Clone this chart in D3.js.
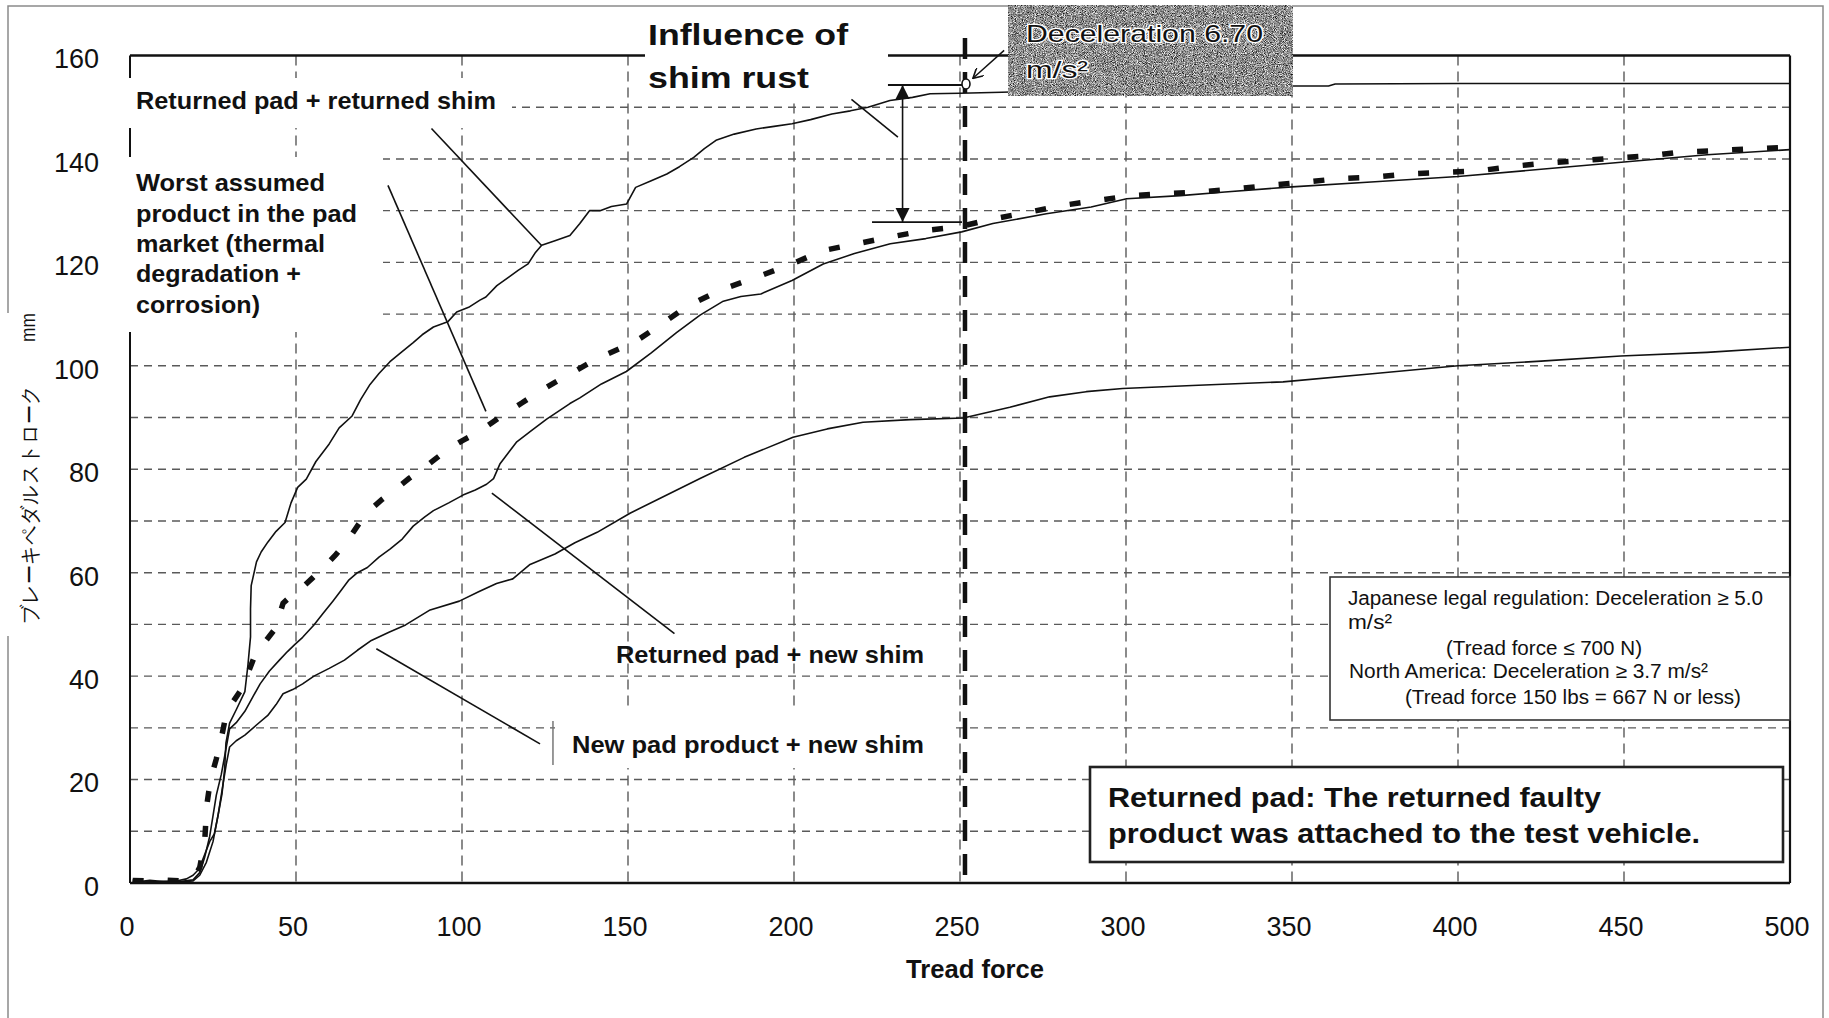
<!DOCTYPE html>
<html><head><meta charset="utf-8">
<script src="https://cdn.jsdelivr.net/npm/d3@7"></script>
<style>
html,body{margin:0;padding:0;background:#fff;}
svg{display:block;}
text{font-family:"Liberation Sans",Arial,Helvetica,sans-serif;fill:#111;}
</style></head><body>
<svg id="chart" width="1829" height="1018"></svg>
<script>
// ---------------- data ----------------
const xTicks = [0,50,100,150,200,250,300,350,400,450,500];
const yTicks = [0,20,40,60,80,100,120,140,160];
const xGrid = [50,100,150,200,250,300,350,400,450];
const yGrid = [10,20,30,40,50,60,70,80,90,100,110,120,130,140,150];

// Returned pad + returned shim
const seriesA = [[0.8,0.6],[3,0.3],[6,0.5],[10,0.3],[14,0.4],[17,0.8],[19,1.5],[20.8,2.7],[22.5,5.5],[24,8],[25.4,9.5],[26.5,13],[27.7,17.2],[28.5,22],[28.9,27.1],[30,30.9],[32,33.5],[34.6,37],[35.5,42],[36.3,47.6],[36.3,53],[36.5,57.5],[38.1,62.1],[39.5,64],[41.5,65.9],[44,68],[46.7,69.7],[48.5,73.5],[50.5,76.5],[53.1,78.1],[56,81.5],[60,84.9],[63,88],[66.9,90.3],[69.5,93.5],[72.3,96.4],[75,98.5],[78.3,100.8],[81.5,102.5],[85.3,104.5],[88,106],[91.4,107.5],[95.7,108.5],[98.4,110.4],[102,111.3],[105.4,112.7],[107.2,113.3],[110.5,115.5],[114.2,117.2],[117,118.5],[119.9,119.7],[122,121.8],[124,123.3],[128,124.2],[132.5,125.2],[135.5,127.5],[138.4,130],[141.6,130],[145,130.8],[149.6,131.3],[152.3,134.5],[157,135.8],[161.7,137.1],[165.5,138.5],[169.8,140.3],[173,142],[176.5,143.6],[182,144.8],[188.6,145.8],[194,146.3],[199.4,146.8],[205,147.6],[211.4,148.7],[217,149.3],[222.3,150],[228.9,151.3],[235.7,151.9],[241,152.6],[250,152.7],[262.6,152.9],[280,153.2],[300,153.5],[325,153.8],[340,154],[350,154.1],[361,154.1],[363,154.5],[400,154.6],[450,154.6],[500,154.6]];

// Worst assumed product in the pad market
const seriesB = [[0.8,0.5],[5,0.4],[10,0.6],[15,0.4],[19,0.8],[21,3],[22.5,8],[23.1,14.9],[24.2,19.8],[26,24],[27.5,28],[28.9,32.4],[31,35],[33.5,37.4],[35.5,40.5],[37.5,43.8],[40.5,46.5],[43.8,49.2],[46.1,54.1],[48.5,55.5],[51.3,56.8],[55,59],[58.3,61],[62,63.5],[65.2,65.9],[69,69.5],[72.1,72],[76,74.2],[80.1,76.2],[84,78.2],[88,80],[92,82],[95.9,83.9],[100,85.5],[105,87.2],[109,89],[113,90.8],[118,92.8],[123,94.9],[128,96.8],[133,98.6],[141,101.5],[152,104.6],[160,108],[168,111.6],[178,114.7],[189,117.2],[199.4,119.7],[208.8,122.3],[218.9,123.6],[229,124.9],[239.7,126.2],[249.1,126.8],[259.9,128.4],[270.7,129.7],[280.7,131],[291.5,132],[301.6,132.9],[312.3,133.3],[322.4,133.6],[333.1,134.2],[343.4,134.9],[354,135.5],[364,136.2],[375.2,136.5],[385.2,137.1],[395.8,137.4],[406.3,137.7],[416.9,138.6],[426.9,139.2],[437.4,139.7],[448,140.2],[458,140.6],[466.4,141.3],[476.9,141.6],[487.5,141.9],[498.1,142.2],[500,142.3]];

// Returned pad + new shim
const seriesC = [[0.8,0.3],[5,0.2],[10,0.3],[15,0.3],[19,0.6],[21,2],[22.5,5],[24,9],[25,13],[26,17],[27.5,21],[28.5,24.5],[30,29.8],[32,31],[34.6,33.2],[37,36],[39.2,38.5],[42,41],[45,43.1],[47.5,44.8],[49.6,46.1],[52,47.5],[55.4,49.9],[58,52],[61.1,54.5],[63.5,56.5],[65.8,58.5],[68.5,60],[71.5,61],[75,63],[78.4,64.6],[82,66.5],[85.3,69],[88.8,70.8],[91.4,72],[96,73.5],[100.3,75],[104,76],[107.4,77.1],[109.5,78.2],[111.4,81],[114.2,83.4],[116.5,85.3],[121,87.5],[125.5,89.7],[129,91.2],[132.5,92.7],[135.5,93.8],[142,96.5],[149.5,98.9],[157,102.5],[164.6,106.4],[171.7,109.8],[178.7,112.5],[184,113.4],[190,113.9],[199.4,116.5],[208.8,119.7],[218.2,121.7],[229,123.6],[239.7,124.6],[250.5,125.9],[259.9,127.5],[276,129.4],[289.5,130.7],[300.2,132.3],[316.4,132.9],[329.8,133.6],[350,134.6],[375,135.6],[400,136.6],[425,138],[450,139.4],[475,140.8],[500,141.8]];

// New pad product + new shim
const seriesD = [[0.8,0.2],[5,0.2],[10,0.3],[15,0.2],[19,0.4],[21,1.5],[23,4],[25,8],[26.5,13],[28,19],[29,23],[30,26.3],[32,27.5],[34.6,28.6],[38,30.5],[41.5,32.4],[44,34.5],[46.1,36.6],[49,37.4],[52,38.5],[55.4,40],[60,41.5],[64.6,43.1],[68.5,45],[72.7,46.9],[78,48.5],[83,49.9],[90.4,52.8],[99.2,54.5],[105,56.3],[110.4,57.9],[115.3,58.8],[120.5,61.6],[128,63.6],[134,65.8],[140.7,67.8],[150.6,71.5],[160,74.5],[171.7,78.2],[185,82.3],[199.7,86.2],[210,87.8],[220.8,89.1],[235,89.6],[251,89.9],[265,92],[277,94],[288,95],[299,95.6],[320,96.2],[347.3,96.9],[375,98.5],[400,100],[425,100.9],[449,101.9],[475,102.6],[500,103.6]];

const decelForce = 251.5;      // Deceleration 6.70 m/s² tread force
const decelStroke = 154.5;     // marked point
const rustTop = 154.3, rustBottom = 127.8, rustForce = 232.7;

// ---------------- drawing ----------------
const svg = d3.select("#chart");
const x = d3.scaleLinear().domain([0,500]).range([130,1790]);
const y = d3.scaleLinear().domain([0,160]).range([883,55.5]);

const defs = svg.append("defs");
const f = defs.append("filter").attr("id","grain").attr("x",0).attr("y",0).attr("width",1).attr("height",1)
  .attr("color-interpolation-filters","sRGB");
f.append("feTurbulence").attr("type","fractalNoise").attr("baseFrequency","1.1").attr("numOctaves",2).attr("seed",7).attr("result","n");
f.append("feColorMatrix").attr("in","n").attr("type","matrix")
 .attr("values","0.33 0.33 0.33 0 0  0.33 0.33 0.33 0 0  0.33 0.33 0.33 0 0  0 0 0 0 1").attr("result","g");
const ct = f.append("feComponentTransfer").attr("in","g").attr("result","c");
["feFuncR","feFuncG","feFuncB"].forEach(k=>ct.append(k).attr("type","linear").attr("slope",3.4).attr("intercept",-1.12));
f.append("feComposite").attr("in","c").attr("in2","SourceGraphic").attr("operator","in");

defs.append("marker").attr("id","tri").attr("viewBox","0 0 10 10").attr("refX",10).attr("refY",5)
  .attr("markerWidth",14).attr("markerHeight",15).attr("markerUnits","userSpaceOnUse").attr("orient","auto-start-reverse")
  .append("path").attr("d","M0,0 L10,5 L0,10 Z").attr("fill","#111");
defs.append("marker").attr("id","vee").attr("viewBox","0 0 10 10").attr("refX",9).attr("refY",5)
  .attr("markerWidth",11).attr("markerHeight",11).attr("markerUnits","userSpaceOnUse").attr("orient","auto")
  .append("path").attr("d","M0,0 L9,5 L0,10").attr("fill","none").attr("stroke","#111").attr("stroke-width",1.5);

// outer frame
const frame = svg.append("g").attr("stroke","#8a8a8a").attr("stroke-width",1.5).attr("fill","none");
frame.append("path").attr("d","M8,313 L8,6 L1823,6 L1823,1018");
frame.append("path").attr("d","M8,636 L8,1018");

// grid
const grid = svg.append("g");
grid.selectAll("line.h").data(yGrid).join("line").attr("class","h")
  .attr("x1",x(0)).attr("x2",x(500)).attr("y1",d=>y(d)).attr("y2",d=>y(d))
  .attr("stroke","#5a5a5a").attr("stroke-width",1.4).attr("stroke-dasharray","8,6");
grid.selectAll("line.v").data(xGrid).join("line").attr("class","v")
  .attr("y1",y(160)).attr("y2",y(0)).attr("x1",d=>x(d)).attr("x2",d=>x(d))
  .attr("stroke","#5a5a5a").attr("stroke-width",1.4).attr("stroke-dasharray","10,6");

// curves
const line = d3.line().x(d=>x(d[0])).y(d=>y(d[1]));
[seriesD, seriesC, seriesA].forEach(s=>{
  svg.append("path").datum(s).attr("d",line).attr("fill","none").attr("stroke","#111").attr("stroke-width",1.6).attr("stroke-linejoin","round");
});
svg.append("path").datum(seriesB).attr("d",line).attr("fill","none").attr("stroke","#111")
  .attr("stroke-width",5.5).attr("stroke-dasharray","11,24");

// plot frame
const fr = svg.append("g").attr("stroke","#111").attr("fill","none");
fr.append("line").attr("x1",x(0)).attr("x2",x(500)).attr("y1",y(0)).attr("y2",y(0)).attr("stroke-width",2.5);
fr.append("line").attr("x1",x(0)).attr("x2",x(500)).attr("y1",y(160)).attr("y2",y(160)).attr("stroke-width",2.5);
fr.append("line").attr("x1",x(0)).attr("x2",x(0)).attr("y1",y(0)).attr("y2",y(160)).attr("stroke-width",2);
fr.append("line").attr("x1",x(500)).attr("x2",x(500)).attr("y1",y(0)).attr("y2",y(160)).attr("stroke-width",2.2);

// thick dashed deceleration line
svg.append("line").attr("x1",x(decelForce)).attr("x2",x(decelForce)).attr("y1",38).attr("y2",y(0))
  .attr("stroke","#111").attr("stroke-width",4.5).attr("stroke-dasharray","21,13");

// white label backgrounds
const wb = [[125,78,387,50],[125,157,258,175],[555,710,395,58],[645,10,243,88]];
svg.selectAll("rect.wb").data(wb).join("rect").attr("class","wb")
  .attr("x",d=>d[0]).attr("y",d=>d[1]).attr("width",d=>d[2]).attr("height",d=>d[3]).attr("fill","#fff");

// axes labels
const ax = svg.append("g").attr("transform",`translate(${x(0)},0)`)
  .call(d3.axisLeft(y).tickValues(yTicks).tickSize(0).tickPadding(31).tickFormat(d3.format("d")));
ax.select(".domain").remove();
ax.selectAll("text").attr("font-size",27).attr("dy","0.46em").attr("font-family","Liberation Sans, Arial, sans-serif").attr("fill","#111");
const bx = svg.append("g").attr("transform",`translate(0,${y(0)})`)
  .call(d3.axisBottom(x).tickValues(xTicks).tickSize(0).tickPadding(34).tickFormat(d3.format("d")));
bx.select(".domain").remove();
bx.selectAll("text").attr("font-size",27).attr("dx","-3.5").attr("font-family","Liberation Sans, Arial, sans-serif").attr("fill","#111");

function txt(t, px, py, size, weight, len, anchor){
  const e = svg.append("text").attr("x",px).attr("y",py).attr("font-size",size).attr("font-weight",weight||"normal")
    .attr("text-anchor",anchor||"start").text(t);
  if(len){ e.attr("textLength",len).attr("lengthAdjust","spacingAndGlyphs"); }
  return e;
}

txt("Tread force", 975, 978, 25, "bold", 138, "middle");

// y-axis title (rotated)
svg.append("text").attr("transform","translate(37,504.5) rotate(-90)").attr("text-anchor","middle")
  .attr("font-family","Noto Sans CJK JP, sans-serif").attr("font-size",21).attr("fill","#111")
  .attr("textLength",239).attr("lengthAdjust","spacingAndGlyphs").text("ブレーキペダルストローク");
svg.append("text").attr("transform","translate(35,327.5) rotate(-90)").attr("text-anchor","middle")
  .attr("font-size",21).attr("fill","#111").attr("textLength",29).attr("lengthAdjust","spacingAndGlyphs").text("mm");

// series labels
txt("Returned pad + returned shim", 136, 109, 24, "bold", 360);
const worst = ["Worst assumed","product in the pad","market (thermal","degradation +","corrosion)"];
const worstLen = [189,221,189,165,124];
const worstBase = [191,221.7,252.3,282,313];
worst.forEach((t,i)=>txt(t,136,worstBase[i],24,"bold",worstLen[i]));
txt("Returned pad + new shim", 616, 663, 24, "bold", 308);
txt("New pad product + new shim", 572, 753, 24, "bold", 352);
txt("Influence of", 648, 45, 30, "bold", 200);
txt("shim rust", 648, 88, 30, "bold", 161);

// leader lines (data units)
const leaders = [
  [[90.8,145.9],[123.9,123.3]],
  [[77.7,134.9],[107.2,91.2]],
  [[109,75.4],[164,48.2]],
  [[74.2,45.3],[123.5,26.9]],
  [[217.3,151.5],[231.3,144.2]]
];
svg.selectAll("line.ld").data(leaders).join("line").attr("class","ld")
  .attr("x1",d=>x(d[0][0])).attr("y1",d=>y(d[0][1])).attr("x2",d=>x(d[1][0])).attr("y2",d=>y(d[1][1]))
  .attr("stroke","#111").attr("stroke-width",1.6);
// bar left of "New pad" label
svg.append("line").attr("x1",x(127.4)).attr("x2",x(127.4)).attr("y1",y(31.3)).attr("y2",y(22.8))
  .attr("stroke","#777").attr("stroke-width",1.5);

// shim rust dimension arrow
svg.append("line").attr("x1",x(rustForce)).attr("x2",x(rustForce)).attr("y1",y(rustTop)).attr("y2",y(rustBottom))
  .attr("stroke","#111").attr("stroke-width",1.6).attr("marker-start","url(#tri)").attr("marker-end","url(#tri)");
svg.append("line").attr("x1",x(228.3)).attr("x2",x(250.6)).attr("y1",y(rustTop)).attr("y2",y(rustTop)).attr("stroke","#111").attr("stroke-width",1.8);
svg.append("line").attr("x1",x(223.5)).attr("x2",x(250.6)).attr("y1",y(rustBottom)).attr("y2",y(rustBottom)).attr("stroke","#111").attr("stroke-width",1.8);

// marked point
svg.append("ellipse").attr("cx",x(decelForce)+1).attr("cy",y(decelStroke)).attr("rx",4).attr("ry",5)
  .attr("fill","#fff").attr("stroke","#111").attr("stroke-width",1.6);

// gray deceleration box
svg.append("rect").attr("x",1008).attr("y",5).attr("width",285).attr("height",91).attr("fill","#8a8a8a");
svg.append("rect").attr("x",1008).attr("y",5).attr("width",285).attr("height",91).attr("fill","#000").attr("filter","url(#grain)").attr("opacity",0.85);
[["Deceleration 6.70",42,237],["m/s²",78,62]].forEach(d=>{
  txt(d[0],1026,d[1],24,"normal",d[2]).attr("stroke","#fff").attr("stroke-width",2.6).attr("paint-order","stroke").attr("fill","#111");
});
svg.append("line").attr("x1",x(263.3)).attr("y1",y(161)).attr("x2",x(253.9)).attr("y2",y(155.6))
  .attr("stroke","#111").attr("stroke-width",1.5).attr("marker-end","url(#vee)");

// regulation box
svg.append("rect").attr("x",1330).attr("y",577).attr("width",460).attr("height",143).attr("fill","#fff").attr("stroke","#333").attr("stroke-width",1.6);
const reg = [["Japanese legal regulation: Deceleration ≥ 5.0",1348,605,415],["m/s²",1348,629,44],["(Tread force ≤ 700 N)",1446,655,196],["North America: Deceleration ≥ 3.7 m/s²",1349,678,359],["(Tread force 150 lbs = 667 N or less)",1405,704,336]];
reg.forEach(d=>txt(d[0],d[1],d[2],20,"normal",d[3]).attr("fill","#222"));

// returned pad note box
svg.append("rect").attr("x",1090).attr("y",767).attr("width",693).attr("height",95).attr("fill","#fff").attr("stroke","#222").attr("stroke-width",2.6);
txt("Returned pad: The returned faulty",1108,806.7,28,"bold",493);
txt("product was attached to the test vehicle.",1108,843,28,"bold",592);
</script>
</body></html>
